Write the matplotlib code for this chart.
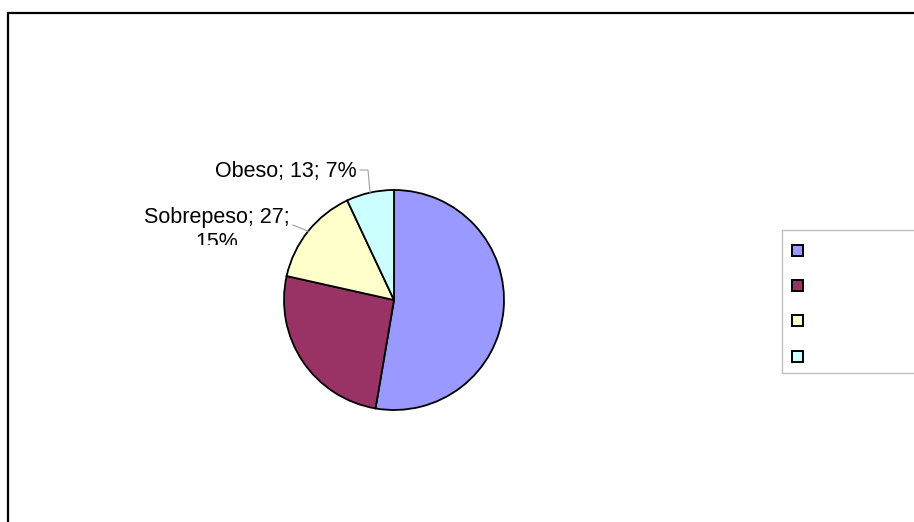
import numpy as np
import matplotlib
matplotlib.use("Agg")
import matplotlib.pyplot as plt
from matplotlib.patches import Rectangle
from matplotlib.transforms import Bbox, TransformedBbox

plt.rcParams['font.family'] = ['Liberation Sans', 'DejaVu Sans']

categories = ['Normal', 'Bajo peso', 'Sobrepeso', 'Obeso']
counts = [98, 48, 27, 13]
colors = ['#9999FF', '#993366', '#FFFFCC', '#CCFFFF']
shown_labels = ['Sobrepeso', 'Obeso']

W, H = 914, 522
fig = plt.figure(figsize=(W / 100, H / 100), dpi=100)

def px(x, y):
    return x / W, 1 - y / H

# outer chart border (runs off the right and bottom edges)
fig.add_artist(Rectangle(px(8, 560), (W + 40) / W, (560 - 13) / H,
                         transform=fig.transFigure, fill=False,
                         edgecolor='black', linewidth=1.6))

cx, cy, r = 394, 300, 110
ax = fig.add_axes([(cx - r) / W, (H - cy - r) / H, 2 * r / W, 2 * r / H])
wedges, _ = ax.pie(counts, colors=colors, startangle=90, counterclock=False,
                   radius=1.0,
                   wedgeprops=dict(edgecolor='black', linewidth=1.3))
ax.set_xlim(-1, 1)
ax.set_ylim(-1, 1)
ax.set_aspect('equal')
ax.set_axis_off()

total = sum(counts)
# the plot area cuts off the second line of the Sobrepeso label
clip = TransformedBbox(Bbox([[0, 1 - 245 / H], [1, 1]]), fig.transFigure)

def to_data(x, y):
    return (x - cx) / r, (cy - y) / r

for name, count, w in zip(categories, counts, wedges):
    if name not in shown_labels:
        continue
    mid = np.deg2rad((w.theta1 + w.theta2) / 2)
    ex, ey = np.cos(mid), np.sin(mid)
    pct = 100 * count / total
    if name == 'Obeso':
        label = f"{name}; {count}; {pct:.0f}%"
        tx, ty = to_data(357, 172)
        p1 = to_data(360, 170)
        p2 = to_data(368, 170)
        ax.plot([p1[0], p2[0], ex], [p1[1], p2[1], ey], color='#a0a0a0',
                lw=0.8, clip_on=False)
        ax.text(tx, ty, label, ha='right', va='center', fontsize=15.5,
                clip_on=False)
    else:
        label = f"{name}; {count};\n{pct:.0f}%"
        tx, ty = to_data(217, 230)
        p1 = to_data(293, 225)
        ax.plot([p1[0], ex], [p1[1], ey], color='#a0a0a0', lw=0.8,
                clip_on=False)
        t = ax.text(tx, ty, label, ha='center', va='center', fontsize=15.5,
                    multialignment='center', linespacing=1.3)
        t.set_clip_box(clip)
        t.set_clip_on(True)

# legend box with colour keys
fig.add_artist(Rectangle(px(782, 373), (W - 782 + 20) / W, (373 - 230) / H,
                         transform=fig.transFigure, fill=True,
                         facecolor='white', edgecolor='#c0c0c0',
                         linewidth=1.0))
key_y = [250, 285.7, 320.7, 356]
s = 11
for color, ky in zip(colors, key_y):
    fig.add_artist(Rectangle(px(797.3 - s / 2, ky + s / 2), s / W, s / H,
                             transform=fig.transFigure, facecolor=color,
                             edgecolor='black', linewidth=1.4))

fig.savefig('out.png', dpi=100)
